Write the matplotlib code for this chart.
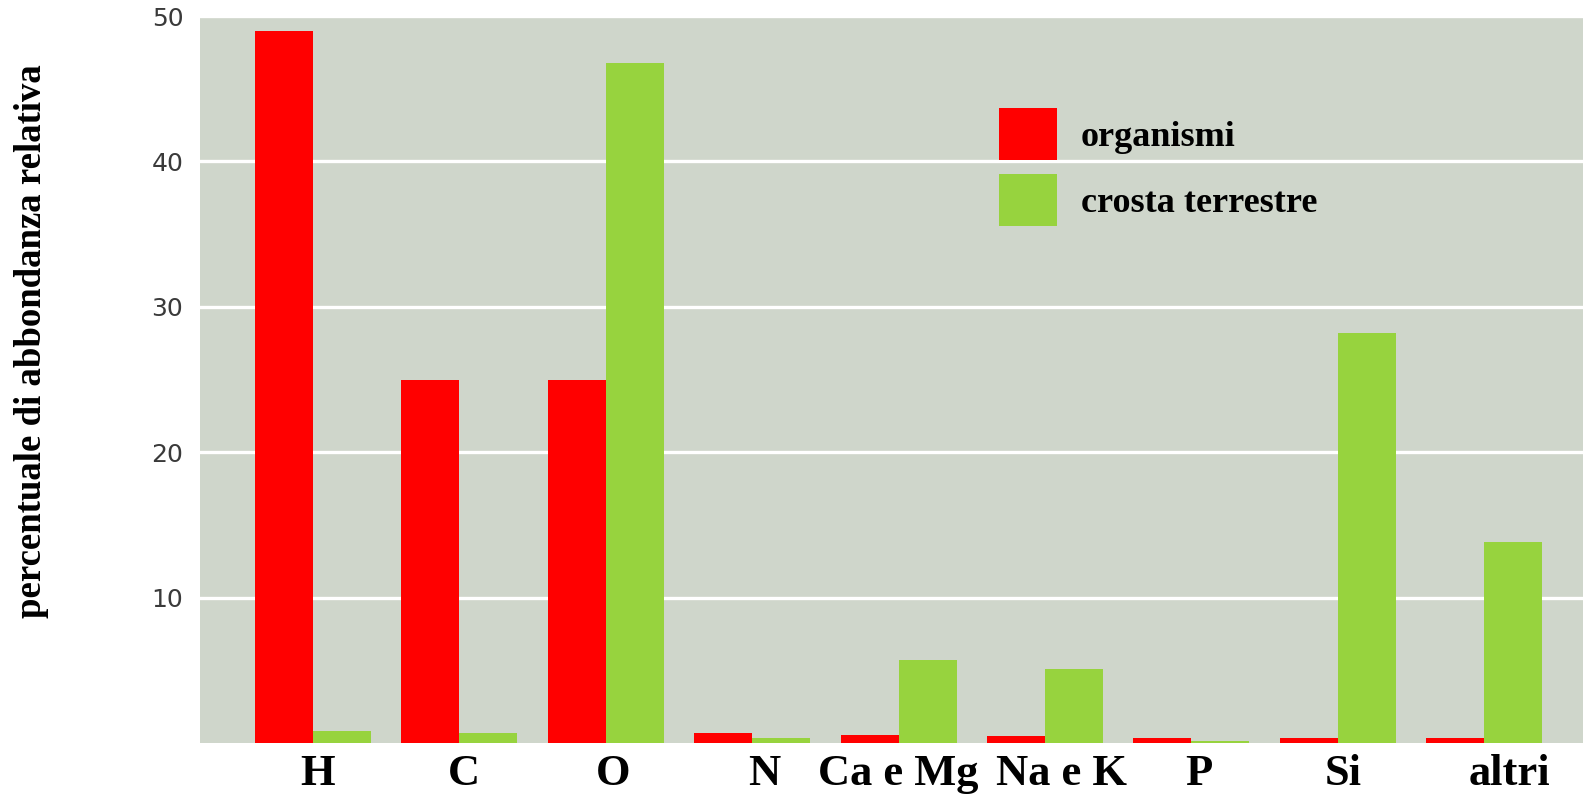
import numpy as np
import matplotlib
matplotlib.use("Agg")
import matplotlib.pyplot as plt
from matplotlib.patches import Patch

# Relative abundance (%) of elements: living organisms vs Earth's crust
categories = ["H", "C", "O", "N", "Ca e Mg", "Na e K", "P", "Si", "altri"]
organismi = [49.0, 25.0, 25.0, 0.7, 0.55, 0.5, 0.35, 0.35, 0.35]
crosta_terrestre = [0.85, 0.7, 46.8, 0.35, 5.7, 5.1, 0.15, 28.2, 13.8]
y_ticks = [10, 20, 30, 40, 50]
series_labels = ["organismi", "crosta terrestre"]

RED = "#FF0000"
GREEN = "#97D33E"
BG = "#CFD6CB"

fig = plt.figure(figsize=(15.83, 8.01), dpi=100)
ax = fig.add_axes([200 / 1583, 1 - 743 / 801, 1383 / 1583, 727 / 801])
ax.set_facecolor(BG)

x = np.arange(len(categories))
w = 0.396
ax.bar(x - w / 2, organismi, width=w, color=RED, zorder=3)
ax.bar(x + w / 2, crosta_terrestre, width=w, color=GREEN, zorder=3)

ax.set_xlim(-0.772, 8.675)
ax.set_ylim(0, 50)

ax.set_yticks(y_ticks)
ax.set_yticklabels([str(t) for t in y_ticks], fontsize=18, color="#3a3a3a",
                   family="DejaVu Sans")
ax.yaxis.grid(True, color="white", linewidth=2.4, zorder=1)
ax.set_axisbelow(True)

# small per-label nudges so multi-word labels don't collide
label_nudge = np.array([0.03, 0.03, 0.05, 0.08, 0.0, 0.11, 0.05, 0.04, 0.17])
ax.set_xticks(x + label_nudge)
ax.set_xticklabels(categories, fontsize=32, fontweight="bold",
                   family="Liberation Serif", color="black")
ax.tick_params(axis="both", length=0)
ax.tick_params(axis="x", pad=8)
ax.tick_params(axis="y", pad=12)

for s in ax.spines.values():
    s.set_visible(False)

ax.set_ylabel("percentuale di abbondanza relativa", fontsize=26.5,
              fontweight="bold", family="Liberation Serif")
ax.yaxis.set_label_coords(-0.109, 0.553)

handles = [Patch(facecolor=RED), Patch(facecolor=GREEN)]
fig.legend(handles, series_labels, loc="upper left",
           bbox_to_anchor=(999 / 1583, 1 - 108 / 801),
           frameon=False, borderpad=0, borderaxespad=0,
           handlelength=1.6, handleheight=1.84, labelspacing=0.39,
           handletextpad=0.66,
           prop={"family": "Liberation Serif", "weight": "bold", "size": 26})

fig.savefig("out.png", dpi=100, facecolor="white")
